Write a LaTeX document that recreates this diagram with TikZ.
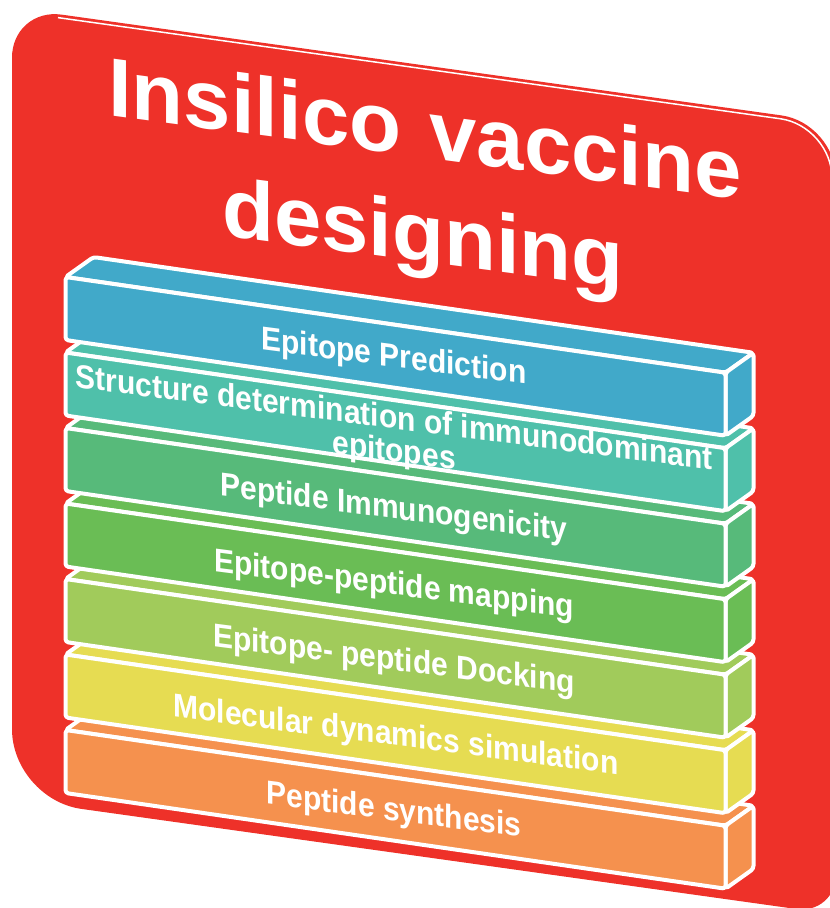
\documentclass[tikz,border=0pt]{standalone}
\usepackage{fontspec}
\setmainfont{Liberation Sans}

\definecolor{panelred}{HTML}{EE3129}
\definecolor{barblue}{HTML}{41A9C9}
\definecolor{barteal}{HTML}{4FC0AA}
\definecolor{barmint}{HTML}{57BA7A}
\definecolor{bargreen}{HTML}{6ABD55}
\definecolor{barlime}{HTML}{A1CB5B}
\definecolor{baryellow}{HTML}{E6DC52}
\definecolor{barorange}{HTML}{F5914E}

\begin{document}
\begin{tikzpicture}[
  x=1pt, y=1pt,
  face/.style={draw=white, line width=4pt, line join=round, rounded corners=3pt},
  headline/.style={text=white, inner sep=0pt, anchor=base, yslant=-0.134, xscale=1.025,
    font=\fontsize{83}{100}\selectfont\bfseries,
    execute at begin node={\spaceskip=0.33em\relax}},
  steplabel/.style={text=white, inner sep=0pt, anchor=base, align=center,
    yslant=-0.13, yscale=1.1, font=\fontsize{30}{30}\selectfont\bfseries}
]
\useasboundingbox (0,0) rectangle (830,-908);

% red panel
\begin{scope}[yslant=-0.14]
  \fill[panelred] (12,-400) [rounded corners=50pt] -- (12,-6) -- (424,-6)
    [rounded corners=55pt] -- (836,-6) -- (836,-400)
    [rounded corners=40pt] -- (836,-797.5) -- (424,-797.5)
    [rounded corners=70pt] -- (12,-797.5) -- cycle;
  \draw[white, line width=1.5pt] (58,-9.5) [rounded corners=52pt] -- (832,-9.5) -- (832,-80);
\end{scope}

\node[headline] (title1) at (425,-157.6) {Insilico vaccine};
\node[headline] (title2) at (423,-262) {designing};

% stacked bars, bottom first
\foreach \i/\col in {6/barorange, 5/baryellow, 4/barlime, 3/bargreen,
                     2/barmint, 1/barteal, 0/barblue} {
  \begin{scope}[shift={(65.5,-277-75.5*\i)}, yslant=-0.145]
    \filldraw[face, fill=\col] (0,0) -- (28,24) -- (688,24) -- (660,0) -- cycle;
    \filldraw[face, fill=\col] (660,0) -- (688,24) -- (688,-39) -- (660,-63) -- cycle;
    \filldraw[face, fill=\col] (0,0) -- (660,0) -- (660,-63) -- (0,-63) -- cycle;
  \end{scope}
}

\node[steplabel] (pred) at (394,-367) {Epitope Prediction};
\node[steplabel, anchor=north] (struct) at (394,-404.5)
  {Structure determination of immunodominant\\epitopes};
\node[steplabel] (immuno) at (394,-518.5) {Peptide Immunogenicity};
\node[steplabel] (mapping) at (394,-594.5) {Epitope-peptide mapping};
\node[steplabel] (docking) at (394,-670) {Epitope- peptide Docking};
\node[steplabel] (md) at (396,-745.5) {Molecular dynamics simulation};
\node[steplabel] (synth) at (394,-820.5) {Peptide synthesis};
\end{tikzpicture}
\end{document}
